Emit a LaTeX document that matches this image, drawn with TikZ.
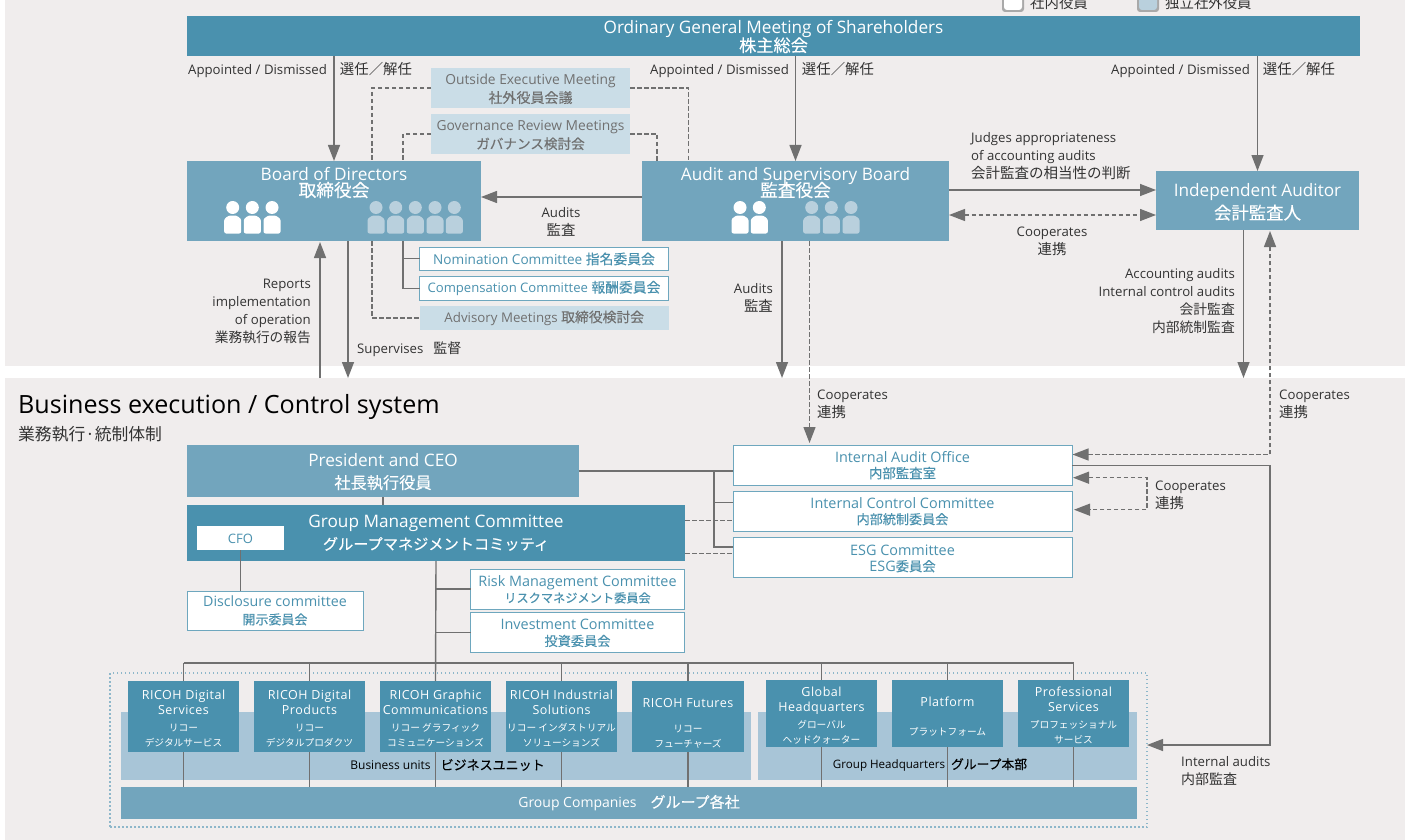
\documentclass[tikz,border=0pt]{standalone}
\usepackage{fontspec}
\usetikzlibrary{arrows.meta}
\setmainfont{Open Sans}
\newfontfamily\cjk{Noto Sans CJK JP}
\newfontfamily\cjkheavy[FakeBold=0.25]{Noto Sans CJK JP}
\newfontfamily\unitfont[LetterSpace=4]{Open Sans}
\definecolor{darkteal}{HTML}{4A91AE}
\definecolor{midteal}{HTML}{72A5BD}
\definecolor{bandblue}{HTML}{A8C5D7}
\definecolor{paleblue}{HTML}{CADDE7}
\definecolor{iconblue}{HTML}{B9D0DD}
\definecolor{panelgray}{HTML}{F0EDED}
\definecolor{linegray}{HTML}{707070}
\definecolor{inktext}{HTML}{333333}
\newcommand{\fsz}[2]{\fontsize{#1}{#2}\selectfont}
\newcommand{\fsztight}[2]{\fontsize{#1}{#2}\selectfont\lineskiplimit=-30pt}
\newcommand{\jp}[2]{{\cjk\fontsize{#1}{#1}\selectfont #2}}
\newcommand{\jb}[2]{{\cjkheavy\fontsize{#1}{#1}\selectfont #2}}
\newcommand{\jsm}[1]{{\cjk\fsz{9.7}{14}#1}}
% one person of the board icons
\newcommand{\person}[3]{%
	\fill[#3] (#1,#2) circle (6.5pt);
	\fill[#3, rounded corners=2pt] (#1-8.5,#2+26) -- (#1-8.5,#2+15)
	to [out=90,in=180] (#1,#2+8) to [out=0,in=90] (#1+8.5,#2+15) -- (#1+8.5,#2+26) -- cycle;
}
\tikzset{
	anybox/.style={anchor=north west, inner sep=0pt, outer sep=0pt, align=center},
	darkbox/.style={anybox, fill=darkteal, text=white},
	midbox/.style={anybox, fill=midteal, text=white},
	palebox/.style={anybox, fill=paleblue, text=linegray, font=\fsz{13.8}{18}},
	whitebox/.style={anybox, fill=white, draw=darkteal!80, line width=1pt, text=darkteal, font=\fsz{14.4}{16}},
	unitbox/.style={darkbox, font=\unitfont\fsz{12.5}{15}},
	lbl/.style={inner sep=0pt, text=inktext, font=\fsz{13.2}{18}},
	conn/.style={draw=linegray, line width=1.4pt},
	dashline/.style={draw=linegray, line width=1.3pt, dash pattern=on 4.5pt off 2.5pt},
	flow/.style={conn, -{Triangle[length=16pt,width=12pt]}},
	dashflow/.style={dashline, -{Triangle[length=16pt,width=12pt]}},
	dashboth/.style={dashline, {Triangle[length=16pt,width=12pt]}-{Triangle[length=16pt,width=12pt]}},
}
\begin{document}
\begin{tikzpicture}[x=1pt,y=-1pt]
	\useasboundingbox (0,0) rectangle (1405,840);
	% panels
	\fill[panelgray] (5,0) rectangle (1405,366);
	\fill[panelgray] (5,378) rectangle (1405,840);
	% legend
	\clip (0,0) rectangle (1405,840);
	\fill[linegray!60, rounded corners=3pt] (1002,-8) rectangle (1024,12);
	\fill[white, rounded corners=3pt] (1004,-8) rectangle (1022,10);
	\fill[linegray!60, rounded corners=3pt] (1137,-8) rectangle (1159,12);
	\fill[iconblue, rounded corners=3pt] (1139,-8) rectangle (1157,10);
	\node[lbl, anchor=west] (legendin) at (1030,3) {\jp{14.4}{社内役員}};
	\node[lbl, anchor=west] (legendout) at (1165,3) {\jp{14.4}{独立社外役員}};
	% supervision side
	\node[darkbox, minimum width=1173, minimum height=40, font=\fsztight{17.2}{18}] (meeting) at (187,16)
		{\rule{0pt}{15pt}Ordinary General Meeting of Shareholders\\\jb{17.2}{株主総会}};
	\node[palebox, minimum width=199, minimum height=40] (outside) at (431,68)
		{\rule{0pt}{13pt}Outside Executive Meeting\\\jb{14}{社外役員会議}};
	\node[palebox, minimum width=199, minimum height=40] (review) at (431,114)
		{\rule{0pt}{13pt}Governance Review Meetings\\\jb{13.6}{ガバナンス検討会}};
	\node[midbox, minimum width=294, minimum height=80, font=\fsztight{17.2}{16.5}] (board) at (187,161)
		{\rule{0pt}{16pt}Board of Directors\\\jb{17.7}{取締役会}\rule[-41pt]{0pt}{41pt}};
	\node[midbox, minimum width=307, minimum height=80, font=\fsztight{17.2}{16.5}] (audit) at (642,161)
		{\rule{0pt}{16pt}Audit and Supervisory Board\\\jb{17.7}{監査役会}\rule[-41pt]{0pt}{41pt}};
	\node[midbox, minimum width=203, minimum height=59, font=\fsz{17.2}{23}] (auditor) at (1156,171)
		{\rule{0pt}{16pt}Independent Auditor\\\jb{17.4}{会計監査人}};
	\foreach \px in {232.7,252.3,272,740,759.3} {\person{\px}{207.5}{white}}
	\foreach \px in {376,395.7,415.3,435,454.3,811.7,831.3,851} {\person{\px}{207.5}{iconblue}}
	\node[whitebox, minimum width=249, minimum height=23.5, font=\fsz{13.6}{16}] (nomination) at (419.5,247)
		{\rule{0pt}{12pt}Nomination Committee \jb{13.8}{指名委員会}};
	\node[whitebox, minimum width=249, minimum height=23.5, font=\fsz{13.1}{16}] (compensation) at (419.5,276.5)
		{Compensation Committee \jb{13.8}{報酬委員会}};
	\node[palebox, minimum width=249.5, minimum height=24, font=\fsz{13.3}{18}] (advisory) at (419.5,306)
		{Advisory Meetings \jb{13.8}{取締役検討会}};
	% free ends
	\coordinate (outsidedrop) at (372,161);
	\coordinate (outsidedropb) at (688.5,161);
	\coordinate (reviewdrop) at (403,161);
	\coordinate (reviewdropb) at (657,161);
	\coordinate (boarddash) at (372,241);
	\coordinate (boardcomm) at (403,241);
	\coordinate (reporthead) at (320,242);
	\coordinate (reportfoot) at (320,378);
	\coordinate (supertop) at (348,241);
	\coordinate (superfoot) at (348,378);
	\coordinate (audittop) at (782,241);
	\coordinate (auditfoot) at (782,378);
	\coordinate (auditdash) at (809.5,241);
	\coordinate (officetop) at (809.5,443);
	\coordinate (acctop) at (1243.5,230);
	\coordinate (accfoot) at (1243.5,378);
	\coordinate (auditorfoot) at (1270,231);
	\coordinate (officeport) at (1072.5,454.5);
	% appointed / dismissed
	\draw[flow] (meeting.south -| board.north) -- (board.north);
	\draw[flow] (meeting.south -| audit.north) -- (audit.north);
	\draw[flow] (meeting.south -| auditor.north) -- (auditor.north);
	\node[lbl, anchor=west] (apptone) at (188,69.5) {Appointed / Dismissed\hspace{13pt}\jp{14.4}{選任／解任}};
	\node[lbl, anchor=west] (appttwo) at (650,69.5) {Appointed / Dismissed\hspace{13pt}\jp{14.4}{選任／解任}};
	\node[lbl, anchor=west] (apptthree) at (1111,69.5) {Appointed / Dismissed\hspace{13pt}\jp{14.4}{選任／解任}};
	% meetings
	\draw[dashline] (outside.west |- 431,88) -| (outsidedrop);
	\draw[dashline] (outside.east |- 630,88) -| (outsidedropb);
	\draw[dashline] (review.west |- 431,134) -| (reviewdrop);
	\draw[dashline] (review.east |- 630,134) -| (reviewdropb);
	\draw[dashline] (boarddash) |- (advisory.west);
	\draw[conn] (boardcomm) |- (nomination.west);
	\draw[conn] (boardcomm) |- (compensation.west);
	% audits
	\draw[flow] (audit.west |- 642,197) -- (board.east |- 481,197);
	\node[lbl, align=center] (auditstext) at (561,221.5) {Audits\\\jp{14.4}{監査}};
	\draw[flow] (audit.east |- 949,190) -- (auditor.west |- 1156,190);
	\draw[dashboth] (audit.east |- 949,215) -- (auditor.west |- 1156,215);
	\node[lbl, align=left, anchor=north west] (judges) at (971,132.5) {Judges appropriateness\\of accounting audits\\\jp{14.5}{会計監査の相当性の判断}};
	\node[lbl, align=center] (coopone) at (1052,241.5) {Cooperates\\\jp{14.4}{連携}};
	\draw[flow] (reportfoot) -- (reporthead);
	\draw[flow] (supertop) -- (superfoot);
	\node[lbl, align=right, anchor=north east] (reports) at (311,279) {Reports\\implementation\\of operation\\\jp{13.7}{業務執行の報告}};
	\node[lbl, anchor=west] (supervises) at (357,349.5) {Supervises\hspace{10pt}\jp{14}{監督}};
	\draw[flow] (audittop) -- (auditfoot);
	\node[lbl, align=right, anchor=east] (auditstwo) at (773,298) {Audits\\\jp{14.4}{監査}};
	\draw[dashflow] (auditdash) -- (officetop);
	\node[lbl, align=left, anchor=west] (cooptwo) at (817,404) {Cooperates\\\jp{14.4}{連携}};
	\draw[flow] (acctop) -- (accfoot);
	\node[lbl, align=right, anchor=north east] (accounting) at (1235,268.5) {Accounting audits\\Internal control audits\\\jp{13.8}{会計監査}\\\jp{13.8}{内部統制監査}};
	\draw[dashboth] (officeport) -| (auditorfoot);
	\node[lbl, align=left, anchor=west] (coopthree) at (1279,404) {Cooperates\\\jp{14.4}{連携}};
	% execution side
	\node[anchor=west, inner sep=0pt, text=black, font=\fsz{25.1}{30}] (extitle) at (18,407) {Business execution / Control system};
	\node[lbl, anchor=west] (exsub) at (18,434) {\jp{16.8}{業務執行·統制体制}};
	\node[midbox, minimum width=392, minimum height=52, font=\fsz{17.2}{22}] (president) at (187,445)
		{\rule{0pt}{15pt}President and CEO\\\jb{16.2}{社長執行役員}};
	\node[darkbox, minimum width=498, minimum height=56, font=\fsz{17.2}{22}] (gmc) at (187,505)
		{Group Management Committee\\\jb{15.2}{グループマネジメントコミッティ}};
	\node[anybox, fill=white, text=darkteal, font=\fsz{13}{16}, minimum width=87, minimum height=24] (cfo) at (197,526) {\rule{0pt}{11pt}CFO};
	\node[whitebox, minimum width=176, minimum height=39, font=\fsz{14.2}{18}] (disclosure) at (187,591)
		{Disclosure committee\\\jb{13}{開示委員会}};
	\node[whitebox, minimum width=214, minimum height=40] (risk) at (470.5,569)
		{\rule{0pt}{12pt}Risk Management Committee\\\jb{12.2}{リスクマネジメント委員会}};
	\node[whitebox, minimum width=214, minimum height=40] (invest) at (470.5,612.5)
		{\rule{0pt}{12pt}Investment Committee\\\jb{13.2}{投資委員会}};
	\node[whitebox, minimum width=339, minimum height=39.5] (office) at (733,445.5)
		{Internal Audit Office\\\jb{13.4}{内部監査室}};
	\node[whitebox, minimum width=339, minimum height=39.5] (control) at (733,491.5)
		{Internal Control Committee\\\jb{13.1}{内部統制委員会}};
	\node[whitebox, minimum width=339, minimum height=39.5] (esg) at (733,537.5)
		{\rule{0pt}{13pt}ESG Committee\\ESG\jb{13.3}{委員会}};
	\coordinate (presbus) at (714,471);
	\coordinate (controlin) at (733,502.5);
	\coordinate (esgin) at (733,547);
	\coordinate (gmcouta) at (733,520.7);
	\coordinate (gmcoutb) at (733,553.7);
	\coordinate (officelow) at (1073,477.7);
	\coordinate (coopbr) at (1147,477.7);
	\coordinate (controlside) at (1074,509.7);
	\draw[conn] (president.south) -- (president.south |- gmc.north);
	\draw[conn] (president.east) -- (office.west |- president.east);
	\draw[conn] (presbus) |- (esgin);
	\draw[conn] (presbus |- controlin) -- (controlin);
	\draw[dashline] (gmc.east |- gmcouta) -- (gmcouta);
	\draw[dashline] (gmc.east |- gmcoutb) -- (gmcoutb);
	\draw[conn] (cfo.south) -- (cfo.south |- disclosure.north);
	\draw[dashboth] (officelow) -- (coopbr) |- (controlside);
	\node[lbl, align=left, anchor=west] (coopfour) at (1155,495) {Cooperates\\\jp{14.4}{連携}};
	% bands and units
	\node[anybox, fill=bandblue, minimum width=630, minimum height=68] (buband) at (121,712) {};
	\node[anybox, fill=bandblue, minimum width=379, minimum height=68] (hqband) at (758,712) {};
	\node[midbox, minimum width=1016, minimum height=32, font=\fsz{14}{16}] (companies) at (121,787)
		{\rule{0pt}{11pt}Group Companies\hspace{14pt}\jb{15}{グループ各社}};
	\node[anybox, draw=midteal!80, line width=1.5pt, dash pattern=on 1.5pt off 2.5pt, minimum width=1037, minimum height=154] (groupframe) at (110,673) {};
	\node[unitbox, minimum width=111, minimum height=71] (unita) at (128,681)
		{\rule{0pt}{13pt}RICOH Digital\\Services\\[2pt]\jsm{リコー}\\\jsm{デジタルサービス}};
	\node[unitbox, minimum width=111, minimum height=71] (unitb) at (254,681)
		{\rule{0pt}{13pt}RICOH Digital\\Products\\[2pt]\jsm{リコー}\\\jsm{デジタルプロダクツ}};
	\node[unitbox, minimum width=111, minimum height=71] (unitc) at (380,681)
		{\rule{0pt}{13pt}RICOH Graphic\\Communications\\[2pt]\jsm{リコー グラフィック}\\\jsm{コミュニケーションズ}};
	\node[unitbox, minimum width=111, minimum height=71] (unitd) at (506,681)
		{\rule{0pt}{13pt}RICOH Industrial\\Solutions\\[2pt]\jsm{リコー インダストリアル}\\\jsm{ソリューションズ}};
	\node[unitbox, minimum width=112, minimum height=71] (unite) at (632,681)
		{\rule{0pt}{22pt}RICOH Futures\\[10pt]\jsm{リコー}\\\jsm{フューチャーズ}};
	\node[unitbox, minimum width=111, minimum height=67] (hqa) at (766,680)
		{\rule{0pt}{13pt}Global\\Headquarters\\[2pt]\jsm{グローバル}\\\jsm{ヘッドクォーター}};
	\node[unitbox, minimum width=111, minimum height=67] (hqb) at (892,680)
		{\rule{0pt}{16pt}Platform\\[14pt]\jsm{プラットフォーム}};
	\node[unitbox, minimum width=111, minimum height=67] (hqc) at (1018,680)
		{\rule{0pt}{13pt}Professional\\Services\\[2pt]\jsm{プロフェッショナル}\\\jsm{サービス}};
	\node[inner sep=0pt, text=black, font=\fsz{12}{14}] (butext) at (447.5,765) {Business units\hspace{10pt}\jb{13}{ビジネスユニット}};
	\node[inner sep=0pt, text=black, font=\fsz{11.6}{14}] (hqtext) at (930,765) {Group Headquarters\hspace{6pt}\jb{12.8}{グループ本部}};
	% tree
	\coordinate (treebus) at (436,663);
	\draw[conn] (gmc.south) -- (unitc.north);
	\draw[conn] (risk.west) -- (risk.west -| gmc.south);
	\draw[conn] (invest.west) -- (invest.west -| gmc.south);
	\draw[conn] (unita.north |- treebus) -- (hqc.north |- treebus);
	\foreach \unitname in {unita,unitb,unitc,unitd,unite,hqa,hqb,hqc} {
		\draw[conn] (\unitname.north |- treebus) -- (\unitname.north);
		\draw[conn] (\unitname.south) -- (\unitname.south |- companies.north);
	}
	% internal audits
	\coordinate (iacorner) at (1270,745);
	\draw[flow] (office.east) -| (iacorner) -- (groupframe.east |- iacorner);
	\node[lbl, align=left, anchor=west] (iatext) at (1181,771) {Internal audits\\\jp{14}{内部監査}};
\end{tikzpicture}
\end{document}
